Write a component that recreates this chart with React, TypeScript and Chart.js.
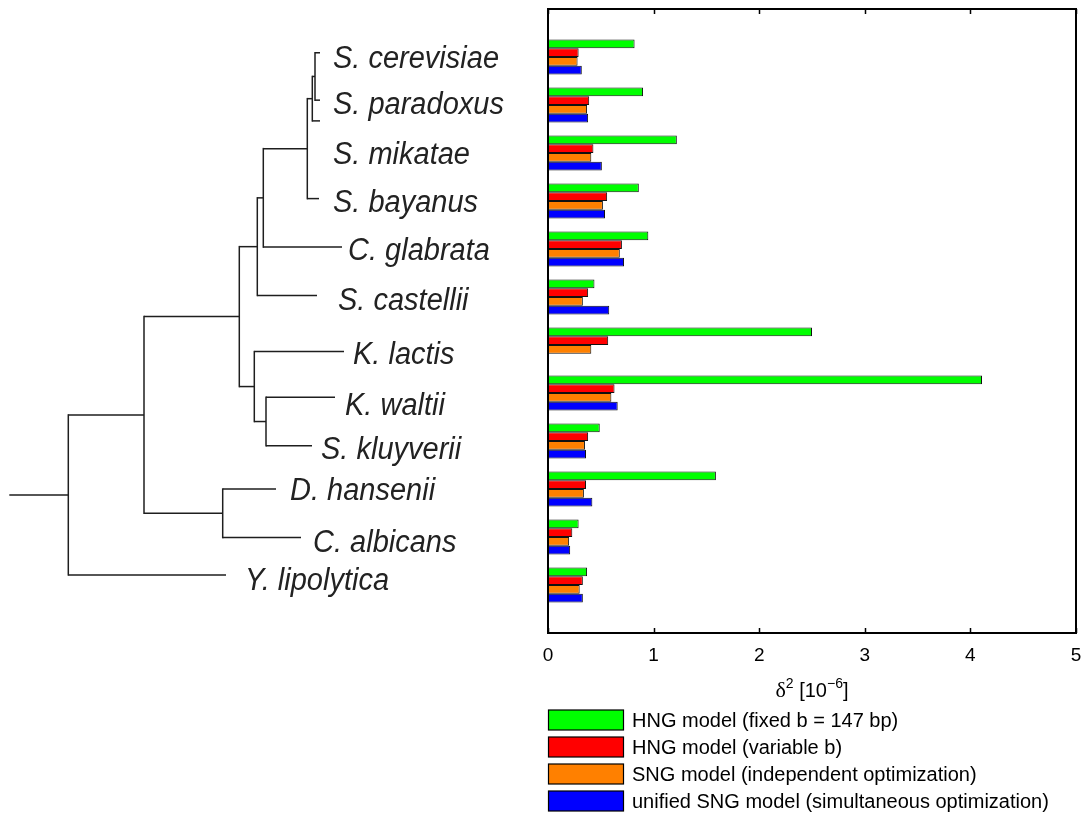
import React, { useEffect, useRef } from 'react';
import { Chart, registerables } from 'chart.js';

Chart.register(...registerables);

// ---------- data ----------
const species = [
  'S. cerevisiae',
  'S. paradoxus',
  'S. mikatae',
  'S. bayanus',
  'C. glabrata',
  'S. castellii',
  'K. lactis',
  'K. waltii',
  'S. kluyverii',
  'D. hansenii',
  'C. albicans',
  'Y. lipolytica',
];

const seriesLabels = [
  'HNG model (fixed b = 147 bp)',
  'HNG model (variable b)',
  'SNG model (independent optimization)',
  'unified SNG model (simultaneous optimization)',
];

const hngFixed = [0.82, 0.9, 1.22, 0.86, 0.95, 0.44, 2.5, 4.11, 0.49, 1.59, 0.29, 0.37];
const hngVariable = [0.29, 0.39, 0.43, 0.56, 0.7, 0.38, 0.57, 0.63, 0.38, 0.36, 0.23, 0.33];
const sngIndependent = [0.28, 0.37, 0.41, 0.52, 0.68, 0.33, 0.41, 0.6, 0.35, 0.34, 0.2, 0.3];
const sngUnified = [0.32, 0.38, 0.51, 0.54, 0.72, 0.58, null, 0.66, 0.36, 0.42, 0.21, 0.33];

const xTicks = [0, 1, 2, 3, 4, 5];

// ---------- tree (drawn beside the chart) ----------
// row positions in category units (1 = first species)
const leafRow = [0.912, 1.899, 2.331, 3.95, 4.96, 5.968, 7.137, 8.091, 9.098, 10.002, 11.012, 11.79];
const labelRow = [1.0, 1.941, 2.984, 3.986, 4.987, 6.031, 7.158, 8.222, 9.14, 9.996, 11.081, 11.874];
const leafTipX = [320, 320, 320, 319, 342, 317, 344, 335, 312, 276, 301, 226];
const labelX = [333, 333, 333, 333, 348, 338, 353, 345, 321, 290, 313, 245];
const rootStubX = 9.3;

type TNode = { x: number; kids: (TNode | number)[] };
const tree: TNode = {
  x: 68.3,
  kids: [
    {
      x: 144,
      kids: [
        {
          x: 239.3,
          kids: [
            {
              x: 257.3,
              kids: [
                {
                  x: 263.3,
                  kids: [
                    {
                      x: 307.3,
                      kids: [{ x: 312.3, kids: [{ x: 315, kids: [0, 1] }, 2] }, 3],
                    },
                    4,
                  ],
                },
                5,
              ],
            },
            { x: 254.3, kids: [6, { x: 266, kids: [7, 8] }] },
          ],
        },
        { x: 222.7, kids: [9, 10] },
      ],
    },
    11,
  ],
};

const seriesColors = ['#00ff00', '#ff0000', '#ff8000', '#0000ff'];
const allSeries = [hngFixed, hngVariable, sngIndependent, sngUnified];

const SANS = "'Liberation Sans', Arial, Helvetica, sans-serif";

const decorPlugin = {
  id: 'decor',
  afterDatasetsDraw(chart: any) {
    const { ctx, chartArea } = chart;
    const { left, right, top, bottom } = chartArea;
    const xs = chart.scales.x;
    ctx.save();
    ctx.strokeStyle = '#000';
    ctx.lineWidth = 1.5;
    xTicks.forEach((v) => {
      const px = Math.round(xs.getPixelForValue(v)) + 0.5;
      ctx.beginPath();
      ctx.moveTo(px, bottom);
      ctx.lineTo(px, bottom - 5);
      ctx.moveTo(px, top);
      ctx.lineTo(px, top + 5);
      ctx.stroke();
    });
    ctx.lineWidth = 2;
    ctx.strokeRect(left, top, right - left, bottom - top);
    ctx.restore();
  },
  afterDraw(chart: any) {
    const { ctx, chartArea } = chart;
    const ys = chart.scales.y;
    const yOf = (r: number) => ys.getPixelForValue(r);
    ctx.save();

    // tree
    ctx.strokeStyle = '#1e1e1e';
    ctx.lineWidth = 1.5;
    const line = (x1: number, y1: number, x2: number, y2: number) => {
      ctx.beginPath();
      ctx.moveTo(x1, y1);
      ctx.lineTo(x2, y2);
      ctx.stroke();
    };
    const drawNode = (node: TNode | number): number => {
      if (typeof node === 'number') return yOf(leafRow[node]);
      const yList = node.kids.map((k) => {
        const y = drawNode(k);
        const endX = typeof k === 'number' ? leafTipX[k] : k.x;
        line(node.x, y, endX, y);
        return y;
      });
      const y0 = Math.min(...yList);
      const y1 = Math.max(...yList);
      line(node.x, y0 - 0.75, node.x, y1 + 0.75);
      return (yList[0] + yList[yList.length - 1]) / 2;
    };
    const rootY = drawNode(tree);
    line(rootStubX, rootY, tree.x, rootY);

    // species labels (slightly tall italic sans, like the original)
    const fs = 29;
    const stretch = 1.1;
    ctx.fillStyle = '#222';
    ctx.font = `italic ${fs}px ${SANS}`;
    ctx.textAlign = 'left';
    ctx.textBaseline = 'alphabetic';
    species.forEach((s, i) => {
      const baseY = yOf(labelRow[i]) + 0.358 * fs * stretch;
      ctx.save();
      ctx.translate(labelX[i], baseY);
      ctx.scale(1, stretch);
      ctx.fillText(s, 0, 0);
      ctx.restore();
    });

    // x-axis title: δ² [10⁻⁶]
    const cx = (chartArea.left + chartArea.right) / 2;
    const base = 697;
    const parts = [
      { t: 'δ', font: `22px 'Liberation Serif', serif`, dy: 0 },
      { t: '2', font: `14px ${SANS}`, dy: -9 },
      { t: ' [10', font: `20px ${SANS}`, dy: 0 },
      { t: '−6', font: `14px ${SANS}`, dy: -9 },
      { t: ']', font: `20px ${SANS}`, dy: 0 },
    ];
    let total = 0;
    const widths = parts.map((p) => {
      ctx.font = p.font;
      const w = ctx.measureText(p.t).width;
      total += w;
      return w;
    });
    let x = cx - total / 2;
    ctx.fillStyle = '#000';
    parts.forEach((p, i) => {
      ctx.font = p.font;
      ctx.fillText(p.t, x, base + p.dy);
      x += widths[i];
    });

    // legend
    const lfs = 20;
    ctx.font = `${lfs}px ${SANS}`;
    chart.data.datasets.forEach((ds: any, i: number) => {
      const cy = 720 + 27 * i;
      ctx.fillStyle = ds.backgroundColor;
      ctx.fillRect(548.5, cy - 10, 75, 20);
      ctx.strokeStyle = '#000';
      ctx.lineWidth = 1.2;
      ctx.strokeRect(548.5, cy - 10, 75, 20);
      ctx.fillStyle = '#000';
      ctx.fillText(ds.label, 632, cy + 0.358 * lfs);
    });

    ctx.restore();
  },
};

export default function App() {
  const canvasRef = useRef<HTMLCanvasElement | null>(null);

  useEffect(() => {
    if (!canvasRef.current) return;
    const labels = ['', ...species, ''];
    const chart = new Chart(canvasRef.current, {
      type: 'bar',
      data: {
        labels,
        datasets: allSeries.map((arr, i) => ({
          label: seriesLabels[i],
          data: [null, ...arr, null],
          backgroundColor: seriesColors[i],
          borderColor: '#111',
          borderWidth: 1,
          categoryPercentage: 0.73,
          barPercentage: 1,
        })),
      },
      options: {
        indexAxis: 'y',
        responsive: false,
        animation: false,
        devicePixelRatio: 1,
        layout: { padding: { left: 548, right: 10, top: 9, bottom: 141.2 } },
        plugins: {
          legend: { display: false },
          tooltip: { enabled: false },
        },
        scales: {
          y: {
            type: 'category',
            display: false,
            offset: false,
            grid: { display: false, offset: false },
          },
          x: {
            type: 'linear',
            min: 0,
            max: 5,
            afterBuildTicks: (scale: any) => {
              scale.ticks = xTicks.map((v) => ({ value: v }));
            },
            afterFit: (scale: any) => {
              scale.paddingLeft = 0;
              scale.paddingRight = 0;
            },
            ticks: {
              color: '#000',
              padding: 11,
              font: { family: SANS, size: 19 },
              maxRotation: 0,
            },
            grid: { display: false, drawTicks: false },
            border: { display: false },
          },
        },
      },
      plugins: [decorPlugin],
    } as any);
    return () => chart.destroy();
  }, []);

  return (
    <div style={{ position: 'absolute', left: 0, top: 0, width: 1086, height: 819, background: '#fff' }}>
      <canvas ref={canvasRef} width={1086} height={819} style={{ display: 'block' }} />
    </div>
  );
}
